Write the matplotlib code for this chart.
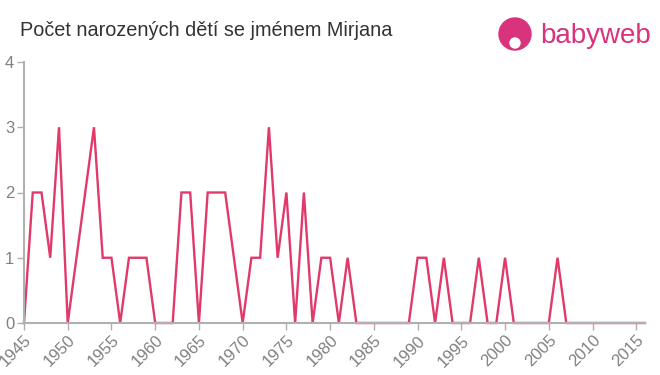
import matplotlib
matplotlib.use('Agg')
import matplotlib.pyplot as plt
from matplotlib.patches import Circle
import numpy as np

plt.rcParams['font.family'] = ['Liberation Sans', 'DejaVu Sans']

title = "Počet narozených dětí se jménem Mirjana"
years = list(range(1945, 2017))
counts = [0, 2, 2, 1, 3, 0, 1, 2, 3, 1,
          1, 0, 1, 1, 1, 0, 0, 0, 2, 2,
          0, 2, 2, 2, 1, 0, 1, 1, 3, 1,
          2, 0, 2, 0, 1, 1, 0, 1, 0, 0,
          0, 0, 0, 0, 0, 1, 1, 0, 1, 0,
          0, 0, 1, 0, 0, 1, 0, 0, 0, 0,
          0, 1, 0, 0, 0, 0, 0, 0, 0, 0,
          0, 0]
xticks = list(range(1945, 2016, 5))
yticks = [0, 1, 2, 3, 4]

line_color = '#e0396a'
axis_color = '#b0b0b0'
text_color = '#808080'

fig = plt.figure(figsize=(6.6, 3.75), dpi=100)
ax = fig.add_axes([24 / 660, 1 - 323 / 375, (645 - 24) / 660, (323 - 62) / 375])

ax.plot(years, counts, color=line_color, linewidth=1.7, solid_joinstyle='miter',
        clip_on=False)

ax.set_xlim(1945, 2016)
ax.set_ylim(0, 4)
ax.set_xticks(xticks)
ax.set_xticklabels([str(x) for x in xticks], rotation=45, ha='right',
                   rotation_mode='anchor', fontsize=12, color=text_color)
ax.set_yticks(yticks)
ax.set_yticklabels([str(y) for y in yticks], fontsize=12, color=text_color)

for side in ['top', 'right']:
    ax.spines[side].set_visible(False)
for side in ['left', 'bottom']:
    ax.spines[side].set_color(axis_color)
    ax.spines[side].set_linewidth(1.5)
ax.tick_params(axis='both', color=axis_color, width=1, length=5, pad=2)

fig.text(20 / 660, 1 - 31 / 375, title, fontsize=14.3, color='#333333', va='center')

# logo
logo_color = '#d8337c'
fig.patches.append(Circle((515, 375 - 34), 16, transform=None, color=logo_color))
fig.patches.append(Circle((515, 375 - 43), 5, transform=None, color='white'))
fig.text(540 / 660, 1 - 36 / 375, 'babyweb', fontsize=20, color=logo_color,
         va='center', ha='left')

fig.savefig('out.png', dpi=100)
